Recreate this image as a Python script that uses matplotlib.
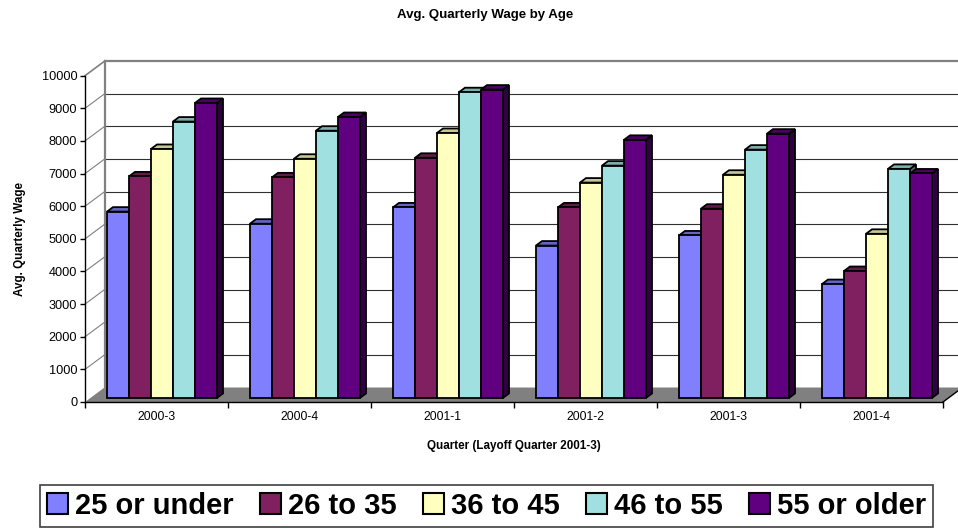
import numpy as np
import matplotlib
matplotlib.use("Agg")
import matplotlib.pyplot as plt
import matplotlib.patches as mpatches
from matplotlib.colors import to_rgb

plt.rcParams['font.family'] = ['Liberation Sans', 'DejaVu Sans']

# ── Data ───────────────────────────────────────────────────
QUARTERS = ["2000-3", "2000-4", "2001-1", "2001-2", "2001-3", "2001-4"]
AGE_GROUPS = ["25 or under", "26 to 35", "36 to 45", "46 to 55", "55 or older"]

wage_25_under = [5710, 5340, 5840, 4670, 4980, 3490]
wage_26_35    = [6790, 6760, 7360, 5840, 5800, 3890]
wage_36_45    = [7630, 7330, 8120, 6600, 6840, 5030]
wage_46_55    = [8470, 8190, 9370, 7120, 7610, 7020]
wage_55_older = [9040, 8610, 9450, 7910, 8100, 6880]

SERIES = [wage_25_under, wage_26_35, wage_36_45, wage_46_55, wage_55_older]
COLORS = ['#8080FF', '#802060', '#FFFFC0', '#A0E0E0', '#600080']

Y_MAX  = 10000
Y_STEP = 1000

# ── 3D look (depth offsets in data units) ──────────────────
DX, DY = 0.1364, 444      # full wall depth
F0, F1 = 0.28, 0.59       # bar front / back as fraction of depth
GAP    = 1.5              # gap between clusters, in bar widths


def shade(c, k):
    r, g, b = to_rgb(c)
    return (r * k, g * k, b * k)


def draw_bar(ax, x0, w, v, color, z):
    fx, fy = F0 * DX, F0 * DY
    bx, by = F1 * DX, F1 * DY
    side = [(x0 + w + fx, fy), (x0 + w + bx, by),
            (x0 + w + bx, v + by), (x0 + w + fx, v + fy)]
    top = [(x0 + fx, v + fy), (x0 + w + fx, v + fy),
           (x0 + w + bx, v + by), (x0 + bx, v + by)]
    front = [(x0 + fx, fy), (x0 + w + fx, fy),
             (x0 + w + fx, v + fy), (x0 + fx, v + fy)]
    kw = dict(edgecolor='black', linewidth=1.3, joinstyle='miter')
    ax.add_patch(mpatches.Polygon(side, facecolor=shade(color, 0.5), zorder=z, **kw))
    ax.add_patch(mpatches.Polygon(top, facecolor=shade(color, 0.78), zorder=z, **kw))
    ax.add_patch(mpatches.Polygon(front, facecolor=color, zorder=z + 0.1, **kw))


W, H = 958, 529
fig = plt.figure(figsize=(W / 100, H / 100), dpi=100)

# axes box in pixels; data 0..6 spans pixel 85..943, 0..10000 spans 402..76
px_x = (943 - 85) / len(QUARTERS)
px_y = (402 - 75.7) / Y_MAX
ax_l, ax_r, ax_t, ax_b = 40, 958, 40, 440
ax = fig.add_axes([ax_l / W, 1 - ax_b / H, (ax_r - ax_l) / W, (ax_b - ax_t) / H])
ax.set_xlim((ax_l - 85) / px_x, (ax_r - 85) / px_x)
ax.set_ylim(-(ax_b - 402) / px_y, (402 - ax_t) / px_y)

n = len(QUARTERS)
yticks = np.arange(0, Y_MAX + 1, Y_STEP)

# back wall, left wall and floor
ax.add_patch(mpatches.Polygon([(DX, DY), (n + DX, DY), (n + DX, Y_MAX + DY), (DX, Y_MAX + DY)],
                              facecolor='white', edgecolor='none', zorder=0))
for v in yticks[1:-1]:
    ax.plot([DX, n + DX], [v + DY, v + DY], color='#303030', lw=0.8, zorder=1)
    ax.plot([0, DX], [v, v + DY], color='#808080', lw=0.8, zorder=1)
ax.plot([DX, n + DX], [Y_MAX + DY] * 2, color='#808080', lw=1.6, zorder=1)
ax.plot([0, DX], [Y_MAX, Y_MAX + DY], color='#808080', lw=1.2, zorder=1)
ax.plot([DX, DX], [DY, Y_MAX + DY], color='#808080', lw=1.6, zorder=1)

ax.add_patch(mpatches.Polygon([(0, 0), (n, 0), (n + DX, DY), (DX, DY)],
                              facecolor='#808080', edgecolor='none', zorder=2))
ax.plot([n, n + DX], [0, DY], color='black', lw=1.0, zorder=2)

# bars
w = 1.0 / (len(SERIES) + GAP)
for i in range(n):
    for j, (vals, col) in enumerate(zip(SERIES, COLORS)):
        x0 = i + GAP * w / 2 + j * w
        draw_bar(ax, x0, w, vals[i], col, 3 + j * 0.2)

# axes lines and ticks
for s in ['top', 'right']:
    ax.spines[s].set_visible(False)
ax.spines['left'].set_position(('data', 0))
ax.spines['left'].set_bounds(0, Y_MAX)
ax.spines['bottom'].set_position(('data', 0))
ax.spines['bottom'].set_bounds(0, n)
for s in ['left', 'bottom']:
    ax.spines[s].set_linewidth(1.0)
    ax.spines[s].set_zorder(5)

ax.set_yticks(yticks)
ax.set_yticklabels([str(v) for v in yticks])
ax.tick_params(axis='y', direction='out', length=3.6, width=1.0, pad=2.0, labelsize=9.2)

ax.set_xticks(np.arange(n + 1))
ax.set_xticklabels([])
ax.set_xticks(np.arange(n) + 0.5, minor=True)
ax.set_xticklabels(QUARTERS, minor=True)
ax.tick_params(axis='x', which='major', direction='out', length=4.0, width=1.0)
ax.tick_params(axis='x', which='minor', length=0, pad=6.5, labelsize=8.7)

ax.set_ylabel("Avg. Quarterly Wage", fontsize=8.4, fontweight='bold')
ax.yaxis.set_label_coords((26 - 85) / px_x, Y_MAX / 2, transform=ax.transData)
ax.set_xlabel("Quarter (Layoff Quarter 2001-3)", fontsize=8.4, fontweight='bold')
ax.xaxis.set_label_coords(n / 2, -(440 - 402) / px_y, transform=ax.transData)

fig.text(485 / W, 1 - 15 / H, "Avg. Quarterly Wage by Age",
         ha='center', va='center', fontsize=9.5, fontweight='bold')

# legend
handles = [mpatches.Patch(facecolor=c, edgecolor='black', linewidth=1.5, label=l)
           for c, l in zip(COLORS, AGE_GROUPS)]
leg = fig.legend(handles=handles, loc='center', ncol=5,
                 bbox_to_anchor=(486.5 / W, 1 - 506 / H),
                 prop={'size': 21, 'weight': 'bold'},
                 handlelength=0.72, handleheight=0.72, handletextpad=0.22,
                 columnspacing=0.92, borderpad=0.25, borderaxespad=0,
                 fancybox=False, framealpha=1, edgecolor='#404040')
leg.get_frame().set_linewidth(1.2)

fig.savefig("out.png", dpi=100, facecolor='white')
